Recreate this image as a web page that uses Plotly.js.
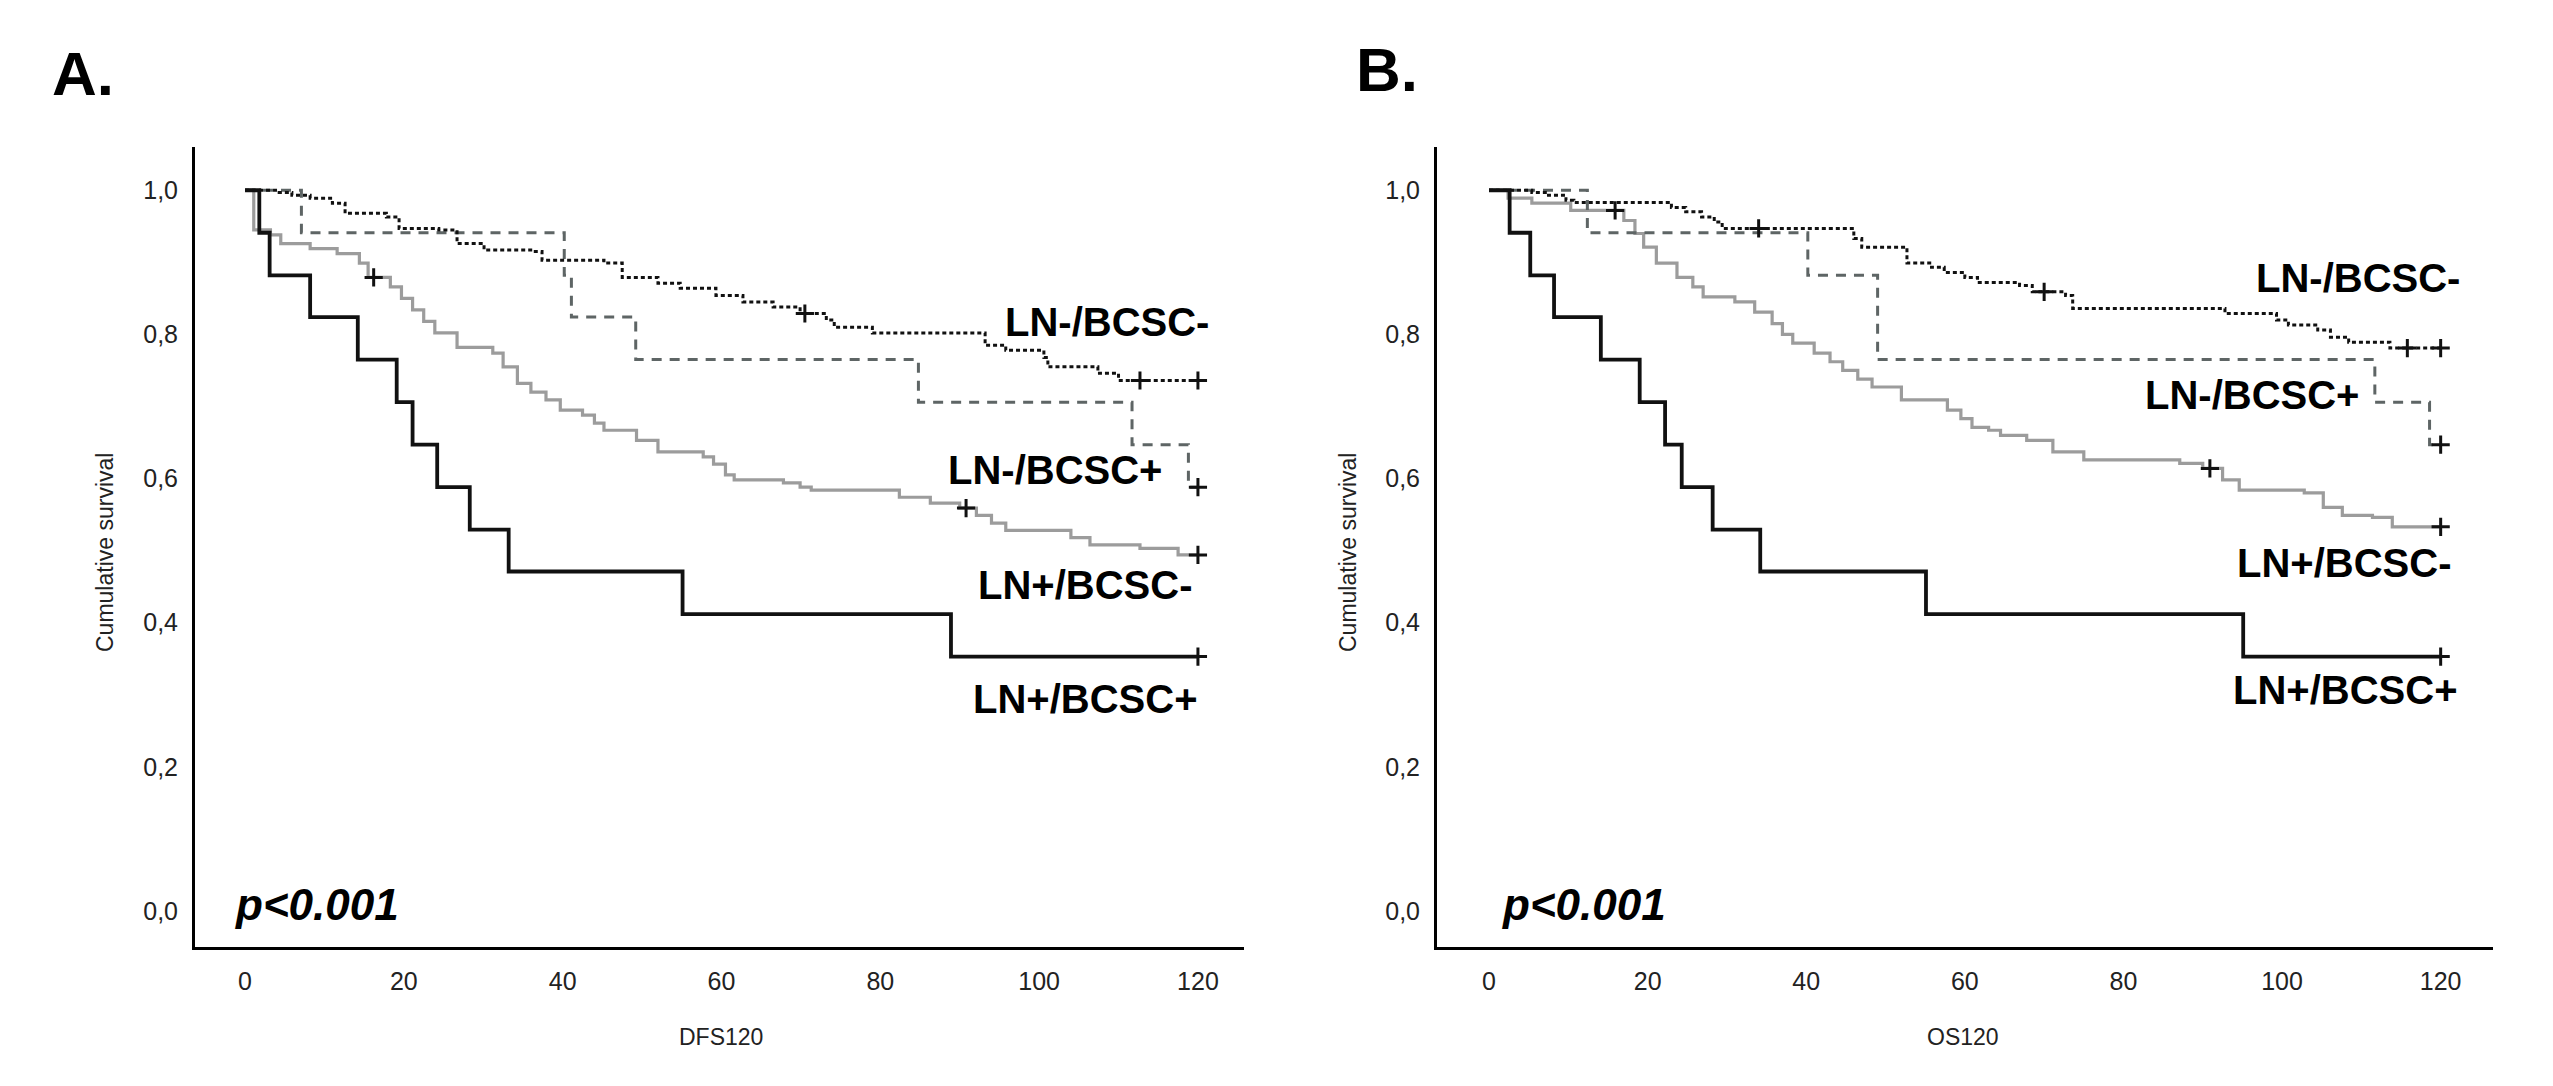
<!DOCTYPE html>
<html>
<head>
<meta charset="utf-8">
<script src="https://cdn.plot.ly/plotly-3.0.1.min.js"></script>
<style>
  html, body { margin: 0; padding: 0; background: #ffffff; }
  #chart { width: 2553px; height: 1086px; }
</style>
</head>
<body>
<div id="chart"></div>
<script>
// ---------------- DATA ----------------
const xTickVals = [0, 20, 40, 60, 80, 100, 120];
const xTickText = ["0", "20", "40", "60", "80", "100", "120"];
const yTickVals = [0, 0.2, 0.4, 0.6, 0.8, 1.0];
const yTickText = ["0,0", "0,2", "0,4", "0,6", "0,8", "1,0"];

const groupNames = ["LN-/BCSC-", "LN-/BCSC+", "LN+/BCSC-", "LN+/BCSC+"];

// Panel A : DFS120
const dfsNegNegT = [0, 4.3, 5.9, 8.2, 11, 12.6, 17.8, 19.4, 24.4, 26.7, 30.1, 36.3, 37.4, 45.2, 47.5, 52, 54.8, 59.3, 62.7, 66.5, 69.9, 73.2, 74.2, 79, 93.2, 95.8, 100.6, 101.1, 107.4, 110, 120];
const dfsNegNegS = [1, 0.997, 0.993, 0.989, 0.982, 0.968, 0.963, 0.947, 0.945, 0.926, 0.917, 0.915, 0.903, 0.899, 0.879, 0.871, 0.864, 0.854, 0.845, 0.838, 0.829, 0.820, 0.810, 0.802, 0.785, 0.778, 0.768, 0.755, 0.746, 0.736, 0.736];
const dfsNegPosT = [0, 7.1, 40.2, 41.1, 49.2, 84.8, 111.7, 118.8, 120];
const dfsNegPosS = [1, 0.941, 0.882, 0.824, 0.765, 0.706, 0.647, 0.588, 0.588];
const dfsPosNegT = [0, 1.1, 3.2, 4.5, 8.2, 11.6, 14.4, 15.5, 18.3, 19.7, 21.1, 22.5, 23.9, 26.7, 31.2, 32.5, 34.3, 36, 37.9, 39.7, 42.5, 44, 45.2, 49.3, 52, 57.7, 59, 60.5, 61.6, 67.8, 69.9, 71.3, 82.4, 86.3, 90, 92.1, 94, 95.8, 104, 106.4, 112.7, 117.5, 120];
const dfsPosNegS = [1, 0.945, 0.938, 0.926, 0.919, 0.912, 0.899, 0.879, 0.866, 0.850, 0.834, 0.818, 0.802, 0.782, 0.774, 0.755, 0.732, 0.720, 0.709, 0.695, 0.688, 0.677, 0.667, 0.653, 0.637, 0.630, 0.620, 0.605, 0.598, 0.594, 0.588, 0.584, 0.574, 0.566, 0.559, 0.549, 0.538, 0.528, 0.518, 0.508, 0.503, 0.494, 0.494];
const dfsPosPosT = [0, 1.8, 3.1, 8.2, 14.2, 19.1, 21.1, 24.2, 28.3, 33.2, 55.1, 88.9, 120];
const dfsPosPosS = [1, 0.941, 0.882, 0.824, 0.765, 0.706, 0.647, 0.588, 0.529, 0.471, 0.412, 0.353, 0.353];
// censored marks (+) panel A
const dfsCensorT = [70.5, 112.7, 120, 120, 16.2, 90.8, 120, 120];
const dfsCensorS = [0.829, 0.736, 0.736, 0.588, 0.879, 0.559, 0.494, 0.353];

// Panel B : OS120
const osNegNegT = [0, 5.4, 7.1, 9.7, 10.7, 23, 24.8, 26.8, 28.4, 29.4, 46, 47, 52.7, 55.8, 57.4, 60, 61.6, 66.9, 68.5, 72.7, 73.6, 92.8, 99.3, 100.8, 104.5, 106.1, 108.4, 113.6, 120];
const osNegNegS = [1, 0.997, 0.993, 0.986, 0.983, 0.976, 0.970, 0.963, 0.956, 0.947, 0.933, 0.921, 0.899, 0.893, 0.886, 0.879, 0.872, 0.868, 0.859, 0.854, 0.836, 0.829, 0.820, 0.813, 0.806, 0.796, 0.789, 0.781, 0.781];
const osNegPosT = [0, 12.4, 40.2, 49.0, 111.7, 118.6, 120];
const osNegPosS = [1, 0.941, 0.882, 0.765, 0.706, 0.647, 0.647];
const osPosNegT = [0, 2.4, 5.4, 10.3, 17, 18.4, 19.5, 21.1, 23.7, 25.7, 27, 31, 33.5, 35.7, 37, 38.3, 41, 43, 44.6, 46.5, 48.3, 52, 57.8, 59.5, 60.9, 63, 64.5, 67.8, 71.1, 75, 87.1, 90, 92.5, 94.6, 102.8, 105.2, 107.6, 111.4, 113.9, 120];
const osPosNegS = [1, 0.989, 0.982, 0.972, 0.958, 0.940, 0.921, 0.899, 0.879, 0.866, 0.852, 0.845, 0.831, 0.815, 0.800, 0.788, 0.774, 0.762, 0.750, 0.738, 0.727, 0.709, 0.695, 0.683, 0.671, 0.667, 0.660, 0.653, 0.637, 0.626, 0.621, 0.614, 0.598, 0.584, 0.580, 0.560, 0.549, 0.546, 0.533, 0.533];
const osPosPosT = [0, 2.6, 5.2, 8.2, 14.1, 19.0, 22.2, 24.3, 28.2, 34.2, 55.1, 95.1, 120];
const osPosPosS = [1, 0.941, 0.882, 0.824, 0.765, 0.706, 0.647, 0.588, 0.529, 0.471, 0.412, 0.353, 0.353];
const osCensorT = [34, 70, 115.8, 120, 120, 15.9, 90.9, 120, 120];
const osCensorS = [0.947, 0.859, 0.781, 0.781, 0.647, 0.972, 0.614, 0.533, 0.353];

// ---------------- STYLE ----------------
const W = 2553, H = 1086;
const FONT = "Liberation Sans, Arial, Helvetica, sans-serif";
const px = (x) => x / W;
const py = (y) => 1 - y / H;

const styles = {
  negneg: { color: "#111111", width: 3, dash: "4px,3px" },
  negpos: { color: "#5e6565", width: 3, dash: "10px,8px" },
  posneg: { color: "#9c9c9c", width: 3.2, dash: "solid" },
  pospos: { color: "#111111", width: 3.8, dash: "solid" }
};

function curve(t, s, st, name, xa, ya) {
  return { type: "scatter", mode: "lines", x: t, y: s, name: name, xaxis: xa, yaxis: ya,
           line: { shape: "hv", color: st.color, width: st.width, dash: st.dash }, hoverinfo: "skip" };
}
function censors(t, s, xa, ya) {
  return { type: "scatter", mode: "markers", x: t, y: s, xaxis: xa, yaxis: ya, cliponaxis: false,
           marker: { symbol: "cross-thin", size: 13, color: "#111111", line: { color: "#111111", width: 3 } },
           hoverinfo: "skip" };
}

const data = [
  curve(dfsPosNegT, dfsPosNegS, styles.posneg, groupNames[2], "x", "y"),
  curve(dfsNegPosT, dfsNegPosS, styles.negpos, groupNames[1], "x", "y"),
  curve(dfsNegNegT, dfsNegNegS, styles.negneg, groupNames[0], "x", "y"),
  curve(dfsPosPosT, dfsPosPosS, styles.pospos, groupNames[3], "x", "y"),
  censors(dfsCensorT, dfsCensorS, "x", "y"),
  curve(osPosNegT, osPosNegS, styles.posneg, groupNames[2], "x2", "y2"),
  curve(osNegPosT, osNegPosS, styles.negpos, groupNames[1], "x2", "y2"),
  curve(osNegNegT, osNegNegS, styles.negneg, groupNames[0], "x2", "y2"),
  curve(osPosPosT, osPosPosS, styles.pospos, groupNames[3], "x2", "y2"),
  censors(osCensorT, osCensorS, "x2", "y2")
];

const yDomain = [py(947), py(147)];
function xAxis(domain, range) {
  return { domain: domain, range: range, showline: true, linecolor: "#000000", linewidth: 3,
           showgrid: false, zeroline: false, ticks: "", tickvals: xTickVals, ticktext: xTickText,
           ticklabelstandoff: 10, tickfont: { family: FONT, size: 25, color: "#222222" }, fixedrange: true };
}
function yAxis(anchor, range) {
  return { domain: yDomain, range: range, anchor: anchor, showline: true, linecolor: "#000000", linewidth: 3,
           showgrid: false, zeroline: false, ticks: "", tickvals: yTickVals, ticktext: yTickText,
           ticklabelstandoff: 9, tickfont: { family: FONT, size: 25, color: "#222222" }, fixedrange: true };
}

function ann(text, x, y, size, opts) {
  const o = opts || {};
  return { text: text, xref: "paper", yref: "paper", x: px(x), y: py(y), xanchor: o.xanchor || "center",
           yanchor: "middle", showarrow: false, textangle: o.angle || 0,
           font: { family: FONT, size: size, color: o.color || "#000000", weight: o.weight || "normal", style: o.style || "normal" } };
}

const annotations = [
  ann("A.", 83, 73, 62, { weight: "bold" }),
  ann("B.", 1387, 70, 62, { weight: "bold" }),
  ann("Cumulative survival", 105, 553, 23, { angle: -90, color: "#222222" }),
  ann("Cumulative survival", 1348, 553, 23, { angle: -90, color: "#222222" }),
  ann("DFS120", 721, 1037, 23, { color: "#222222" }),
  ann("OS120", 1963, 1037, 23, { color: "#222222" }),
  ann("p<0.001", 317, 904, 44, { weight: "bold", style: "italic" }),
  ann("p<0.001", 1584, 904, 44, { weight: "bold", style: "italic" }),
  ann(groupNames[0], 1107, 322, 40, { weight: "bold" }),
  ann(groupNames[1], 1055, 470, 40, { weight: "bold" }),
  ann(groupNames[2], 1085, 585, 40, { weight: "bold" }),
  ann(groupNames[3], 1085, 699, 40, { weight: "bold" }),
  ann(groupNames[0], 2358, 278, 40, { weight: "bold" }),
  ann(groupNames[1], 2252, 395, 40, { weight: "bold" }),
  ann(groupNames[2], 2344, 563, 40, { weight: "bold" }),
  ann(groupNames[3], 2345, 690, 40, { weight: "bold" })
];

const layout = {
  width: W, height: H,
  margin: { l: 0, r: 0, t: 0, b: 0 },
  paper_bgcolor: "#ffffff", plot_bgcolor: "#ffffff",
  showlegend: false,
  xaxis: xAxis([px(195), px(1244)], [-6.3, 125.8]),
  yaxis: yAxis("x", [-0.05, 1.06]),
  xaxis2: xAxis([px(1437), px(2493)], [-6.56, 126.6]),
  yaxis2: yAxis("x2", [-0.05, 1.06]),
  annotations: annotations
};
layout.xaxis.anchor = "y";
layout.xaxis2.anchor = "y2";

Plotly.newPlot("chart", data, layout, { displayModeBar: false, staticPlot: true });
</script>
</body>
</html>
